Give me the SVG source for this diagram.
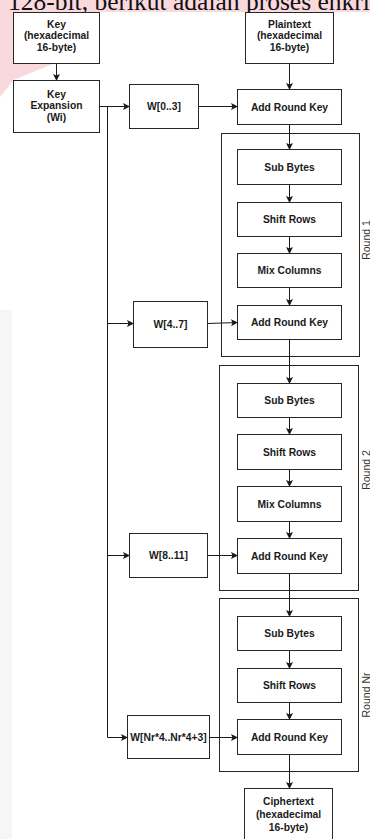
<svg xmlns="http://www.w3.org/2000/svg" width="370" height="839" viewBox="0 0 370 839">
<defs>
<marker id="ah" markerWidth="7" markerHeight="7" refX="6" refY="3.5" orient="auto" markerUnits="userSpaceOnUse">
<path d="M0,0 L7,3.5 L0,7 L1.5,3.5 Z" fill="#1a1a1a"/>
</marker>
<style>
.box{fill:#fff;stroke:#262626;stroke-width:1}
.grp{fill:none;stroke:#262626;stroke-width:1}
.t{font-family:"Liberation Sans",Arial,sans-serif;font-size:10.3px;font-weight:bold;fill:#1a1a1a;text-anchor:middle}
.r{font-family:"Liberation Sans",Arial,sans-serif;font-size:10.5px;fill:#333;text-anchor:middle}
.c{fill:none;stroke:#1a1a1a;stroke-width:1;marker-end:url(#ah)}
.l{fill:none;stroke:#1a1a1a;stroke-width:1}
</style>
</defs>
<rect width="370" height="839" fill="#fff"/>
<g id="background">
<path d="M0,0 H370 V12 H0 Z" fill="#f9d9de"/>
<path d="M0,12 H13.5 V63 H55 L13.5,80 L0,97 Z" fill="#f9d9de"/>
<path d="M0,310 H10 Q12,310 12,313 V839 H0 Z" fill="#f6f6f6"/>
<text x="8" y="10" font-family="'Liberation Serif','Times New Roman',serif" font-size="25.5px" fill="#111">128-bit, berikut adalah proses enkri</text>
</g>
<g id="rounds">
<g id="round1"><rect class="grp" x="221.5" y="133.5" width="138" height="223"/><text class="r" transform="translate(370.3,240) rotate(-90)">Round 1</text></g>
<g id="round2"><rect class="grp" x="219.5" y="365.5" width="139" height="225"/><text class="r" transform="translate(370.3,470) rotate(-90)">Round 2</text></g>
<g id="roundNr"><rect class="grp" x="219.5" y="598.5" width="139" height="173"/><text class="r" transform="translate(370.3,695) rotate(-90)">Round Nr</text></g>
</g>
<g id="connectors">
<line class="c" x1="56.5" y1="63.5" x2="56.5" y2="80"/>
<line class="c" x1="99.5" y1="106.5" x2="129" y2="106.5"/>
<polyline class="c" points="107.5,106.5 107.5,737.5 127,737.5"/>
<line class="c" x1="107.5" y1="323.5" x2="133" y2="323.5"/>
<line class="c" x1="107.5" y1="555.5" x2="129" y2="555.5"/>
<line class="c" x1="198.5" y1="106.5" x2="237" y2="106.5"/>
<line class="c" x1="207.5" y1="323.5" x2="237" y2="322.5"/>
<line class="c" x1="207.5" y1="555.5" x2="237" y2="555.5"/>
<line class="c" x1="209.5" y1="737.5" x2="237" y2="737.5"/>
<line class="c" x1="289.5" y1="63.5" x2="289.5" y2="89"/>
<line class="c" x1="289.5" y1="124.5" x2="289.5" y2="149"/>
<line class="c" x1="289.5" y1="184.5" x2="289.5" y2="202"/>
<line class="c" x1="289.5" y1="236.5" x2="289.5" y2="253"/>
<line class="c" x1="289.5" y1="287.5" x2="289.5" y2="305"/>
<line class="c" x1="289.5" y1="339.5" x2="289.5" y2="383"/>
<line class="c" x1="289.5" y1="417.5" x2="289.5" y2="434"/>
<line class="c" x1="289.5" y1="469.5" x2="289.5" y2="486"/>
<line class="c" x1="289.5" y1="521.5" x2="289.5" y2="538"/>
<line class="c" x1="289.5" y1="573.5" x2="289.5" y2="616"/>
<line class="c" x1="289.5" y1="650.5" x2="289.5" y2="668"/>
<line class="c" x1="289.5" y1="702.5" x2="289.5" y2="719"/>
<line class="c" x1="289.5" y1="754.5" x2="289.5" y2="788"/>
</g>
<g id="key"><rect class="box" x="13.5" y="12.5" width="86" height="51"/><text class="t" x="56.5" y="27.5">Key</text><text class="t" x="56.5" y="39">(hexadecimal</text><text class="t" x="56.5" y="50.5">16-byte)</text></g>
<g id="keyexp"><rect class="box" x="13.5" y="80.5" width="86" height="52"/><text class="t" x="56.5" y="97.5">Key</text><text class="t" x="56.5" y="109">Expansion</text><text class="t" x="56.5" y="120.5">(Wi)</text></g>
<g id="plaintext"><rect class="box" x="245.5" y="12.5" width="88" height="51"/><text class="t" x="289.5" y="27.5">Plaintext</text><text class="t" x="289.5" y="39">(hexadecimal</text><text class="t" x="289.5" y="50.5">16-byte)</text></g>
<g id="w0"><rect class="box" x="129.5" y="84.5" width="69" height="44"/><text class="t" x="164" y="110">W[0..3]</text></g>
<g id="ark0"><rect class="box" x="237.5" y="89.5" width="104" height="35"/><text class="t" x="289.5" y="110.5">Add Round Key</text></g>
<g id="sb1"><rect class="box" x="237.5" y="149.5" width="104" height="35"/><text class="t" x="289.5" y="170.5">Sub Bytes</text></g>
<g id="sr1"><rect class="box" x="237.5" y="202.5" width="104" height="34"/><text class="t" x="289.5" y="223">Shift Rows</text></g>
<g id="mc1"><rect class="box" x="237.5" y="253.5" width="104" height="34"/><text class="t" x="289.5" y="274">Mix Columns</text></g>
<g id="ark1"><rect class="box" x="237.5" y="305.5" width="104" height="34"/><text class="t" x="289.5" y="326">Add Round Key</text></g>
<g id="w4"><rect class="box" x="133.5" y="301.5" width="74" height="46"/><text class="t" x="170.5" y="328">W[4..7]</text></g>
<g id="sb2"><rect class="box" x="237.5" y="383.5" width="104" height="34"/><text class="t" x="289.5" y="404">Sub Bytes</text></g>
<g id="sr2"><rect class="box" x="237.5" y="434.5" width="104" height="35"/><text class="t" x="289.5" y="455.5">Shift Rows</text></g>
<g id="mc2"><rect class="box" x="237.5" y="486.5" width="104" height="35"/><text class="t" x="289.5" y="507.5">Mix Columns</text></g>
<g id="ark2"><rect class="box" x="237.5" y="538.5" width="104" height="35"/><text class="t" x="289.5" y="559.5">Add Round Key</text></g>
<g id="w8"><rect class="box" x="129.5" y="533.5" width="78" height="44"/><text class="t" x="168.5" y="559">W[8..11]</text></g>
<g id="sbn"><rect class="box" x="237.5" y="616.5" width="104" height="34"/><text class="t" x="289.5" y="637">Sub Bytes</text></g>
<g id="srn"><rect class="box" x="237.5" y="668.5" width="104" height="34"/><text class="t" x="289.5" y="689">Shift Rows</text></g>
<g id="arkn"><rect class="box" x="237.5" y="719.5" width="104" height="35"/><text class="t" x="289.5" y="740.5">Add Round Key</text></g>
<g id="wn"><rect class="box" x="127.5" y="715.5" width="82" height="43"/><text class="t" x="168.5" y="741">W[Nr*4..Nr*4+3]</text></g>
<g id="ciphertext"><rect class="box" x="244.5" y="788.5" width="88" height="56"/><text class="t" x="288.5" y="804.5">Ciphertext</text><text class="t" x="288.5" y="817.5">(hexadecimal</text><text class="t" x="288.5" y="830.5">16-byte)</text></g>
</svg>
